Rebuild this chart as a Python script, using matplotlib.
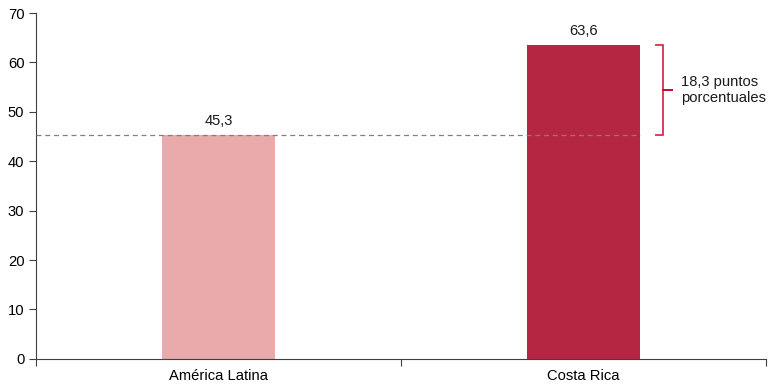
import matplotlib.pyplot as plt
from matplotlib.path import Path
from matplotlib.patches import PathPatch

plt.rcParams['font.family'] = ['Liberation Sans', 'DejaVu Sans']

categorias = ['América Latina', 'Costa Rica']
valores = [45.3, 63.6]
etiquetas = ['45,3', '63,6']
colores = ['#E8AAAA', '#B52642']
diferencia = '18,3 puntos\nporcentuales'

fs = 10.6

fig = plt.figure(figsize=(7.7, 3.85), dpi=100)
ax = fig.add_axes([0.047, 0.068, 0.948, 0.898])

x = list(range(len(categorias)))
ancho = 0.31
ax.bar(x, valores, width=ancho, color=colores, zorder=2)
for xi, v, t in zip(x, valores, etiquetas):
    ax.annotate(t, (xi, v), xytext=(0, 5), textcoords='offset points',
                ha='center', va='bottom', fontsize=fs, color='#1a1a1a')

# referencia regional, hasta el borde de la última barra
ax.hlines(valores[0], -0.5, x[-1] + ancho / 2, color='#808080', lw=0.9,
          ls=(0, (4, 3)), zorder=3)

# llave con la diferencia
lo, hi = valores[0], valores[1]
mid = (lo + hi) / 2
xb, xl, xt = 1.218, 1.195, 1.245
verts = [(xl, hi), (xb, hi), (xb, mid), (xt, mid), (xb, mid), (xb, lo), (xl, lo)]
codes = [Path.MOVETO] + [Path.LINETO] * 6
ax.add_patch(PathPatch(Path(verts, codes), fill=False, edgecolor='#C8102E',
                       lw=1.1, zorder=3))
ax.text(1.267, mid, diferencia, ha='left', va='center', fontsize=fs,
        color='#1a1a1a', linespacing=1.25)

ax.set_xlim(-0.5, 1.5)
ax.set_ylim(0, 70)
ax.set_yticks(range(0, 71, 10))
ax.set_xticks([-0.5, 0.5, 1.5])
ax.set_xticklabels([])
ax.set_xticks(x, minor=True)
ax.set_xticklabels(categorias, minor=True)
ax.tick_params(axis='x', which='minor', length=0, labelsize=fs, pad=7)
ax.tick_params(axis='x', which='major', length=5, direction='out', color='#404040')
ax.tick_params(axis='y', length=5, direction='out', labelsize=fs, color='#404040')
for s in ['top', 'right']:
    ax.spines[s].set_visible(False)
for s in ['left', 'bottom']:
    ax.spines[s].set_color('#404040')

fig.savefig('out.png', dpi=100)
